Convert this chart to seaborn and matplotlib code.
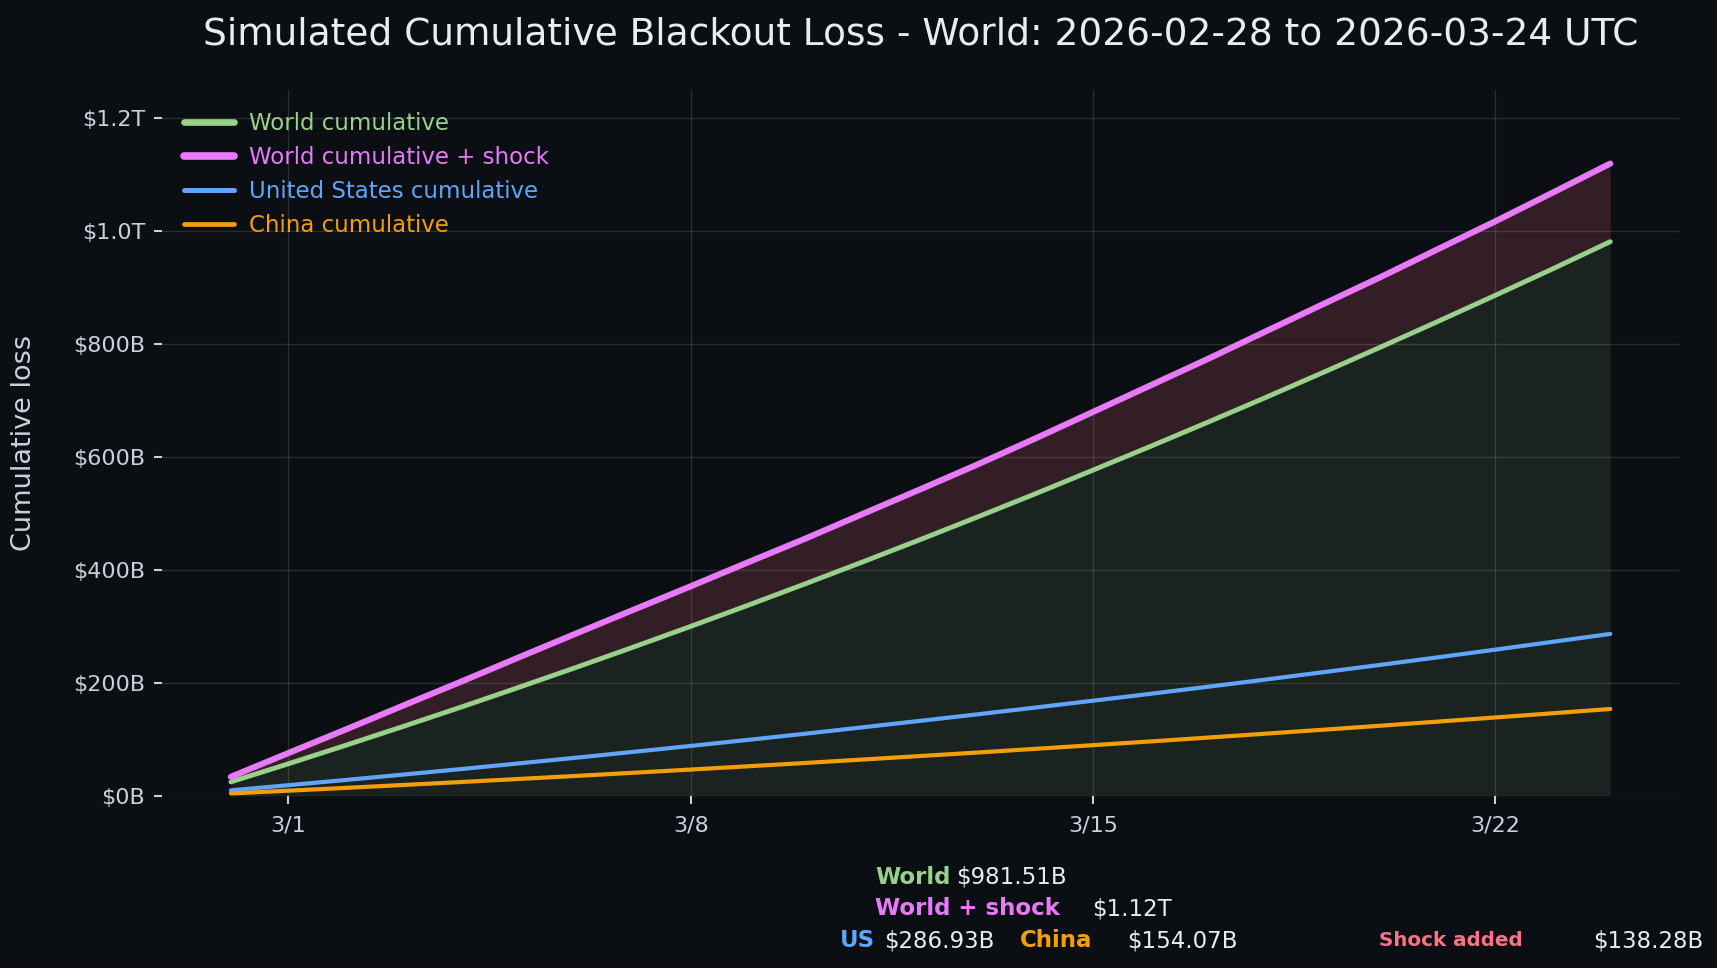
import matplotlib
matplotlib.use("Agg")
import matplotlib.pyplot as plt
import matplotlib.dates as mdates
from matplotlib.ticker import FuncFormatter, MultipleLocator
import seaborn as sns
import pandas as pd
import numpy as np

# ---- data (billions USD) ----
dates = pd.date_range("2026-02-28", "2026-03-24", freq="D")
world = [25.0, 57.0, 89.8, 123.2, 157.2, 192.0, 227.4, 263.5, 300.3, 337.8,
         375.9, 414.7, 454.2, 494.4, 535.2, 577.0, 619.0, 661.9, 705.4, 749.7,
         794.6, 840.2, 886.5, 933.4, 981.51]
world_shock = [34.0, 76.0, 117.8, 160.2, 202.2, 245.0, 287.4, 329.5, 371.3, 413.8,
               455.9, 499.7, 543.2, 587.4, 633.2, 680.0, 727.0, 773.9, 822.4, 870.7,
               918.6, 968.2, 1017.5, 1068.4, 1119.79]
us = [10.0, 19.1, 28.4, 37.9, 47.6, 57.6, 67.7, 78.1, 88.6, 99.4,
      110.3, 121.7, 133.1, 144.7, 156.6, 168.7, 180.9, 193.4, 206.1, 219.1,
      232.2, 245.5, 259.1, 273.0, 286.93]
china = [4.5, 9.4, 14.4, 19.5, 24.7, 30.1, 35.5, 41.1, 46.8, 52.6,
         58.5, 64.6, 70.8, 77.0, 83.5, 90.0, 96.6, 103.4, 110.3, 117.3,
         124.4, 131.7, 139.0, 146.5, 154.07]
series_labels = ["World cumulative", "World cumulative + shock",
                 "United States cumulative", "China cumulative"]
summary_world = "$981.51B"
summary_shock_total = "$1.12T"
summary_us = "$286.93B"
summary_china = "$154.07B"
summary_shock_added = "$138.28B"

BG = "#0b0e13"
TXT = "#c9d1d9"
GREEN = "#98d18a"
PINK = "#e879f9"
BLUE = "#60a5fa"
ORANGE = "#f59e0b"
ROSE = "#fb7185"

sns.set_theme(style="dark")
plt.rcParams["font.family"] = ["DejaVu Sans"]

fig = plt.figure(figsize=(17.17, 9.68), dpi=100, facecolor=BG)
ax = fig.add_axes([0.0943, 0.1777, 0.8837, 0.7293])
ax.set_facecolor(BG)

df = pd.DataFrame({"date": dates, "world": world, "world_shock": world_shock,
                   "us": us, "china": china})

ax.fill_between(df["date"], 0, df["world"], color=GREEN, alpha=0.11, lw=0, zorder=1)
ax.fill_between(df["date"], df["world"], df["world_shock"], color=ROSE, alpha=0.17, lw=0, zorder=1)

sns.lineplot(data=df, x="date", y="world", ax=ax, color=GREEN, lw=3.5, label=series_labels[0], zorder=3)
sns.lineplot(data=df, x="date", y="world_shock", ax=ax, color=PINK, lw=4.4, label=series_labels[1], zorder=4)
sns.lineplot(data=df, x="date", y="us", ax=ax, color=BLUE, lw=3.0, label=series_labels[2], zorder=3)
sns.lineplot(data=df, x="date", y="china", ax=ax, color=ORANGE, lw=3.0, label=series_labels[3], zorder=3)

ax.set_ylim(0, 1250)
ax.yaxis.set_major_locator(MultipleLocator(200))

def fmt(v, pos):
    if v >= 1000:
        return f"${v/1000:.1f}T"
    return f"${v:.0f}B"

ax.yaxis.set_major_formatter(FuncFormatter(fmt))
ax.xaxis.set_major_locator(mdates.DayLocator(bymonthday=[1, 8, 15, 22]))
ax.xaxis.set_major_formatter(FuncFormatter(lambda v, p: f"{mdates.num2date(v).month}/{mdates.num2date(v).day}"))

ax.grid(True, color="#ffffff", alpha=0.13, lw=1)
for s in ax.spines.values():
    s.set_visible(False)
ax.tick_params(axis="both", colors=TXT, labelsize=16, length=6, width=1.5,
               bottom=True, left=True)
ax.tick_params(axis="y", pad=6)
ax.tick_params(axis="x", pad=8)
ax.set_xlabel("")
ax.set_ylabel("Cumulative loss", color=TXT, fontsize=19.5, labelpad=26)
ax.set_title("Simulated Cumulative Blackout Loss - World: 2026-02-28 to 2026-03-24 UTC",
             color="#e6edf3", fontsize=27, pad=33)

leg = ax.legend(loc="upper left", frameon=False, fontsize=16.5, handlelength=2.2,
                borderaxespad=0.55, labelspacing=0.48, handletextpad=0.65)
for txt, c in zip(leg.get_texts(), [GREEN, PINK, BLUE, ORANGE]):
    txt.set_color(c)
for h, w in zip(leg.get_lines(), [4.8, 5.5, 3.6, 3.4]):
    h.set_linewidth(w)

# summary texts
fs = 16.5
fig.text(0.5096, 0.094, "World", color=GREEN, fontsize=fs, fontweight="bold", va="center")
fig.text(0.5568, 0.094, summary_world, color="#e6edf3", fontsize=fs, va="center")
fig.text(0.5096, 0.061, "World + shock", color=PINK, fontsize=fs, fontweight="bold", va="center")
fig.text(0.6360, 0.061, summary_shock_total, color="#e6edf3", fontsize=fs, va="center")
fig.text(0.4892, 0.028, "US", color=BLUE, fontsize=fs, fontweight="bold", va="center")
fig.text(0.5148, 0.028, summary_us, color="#e6edf3", fontsize=fs, va="center")
fig.text(0.5940, 0.028, "China", color=ORANGE, fontsize=fs, fontweight="bold", va="center")
fig.text(0.6564, 0.028, summary_china, color="#e6edf3", fontsize=fs, va="center")
fig.text(0.8031, 0.028, "Shock added", color=ROSE, fontsize=14.3, fontweight="bold", va="center")
fig.text(0.9278, 0.028, summary_shock_added, color="#e6edf3", fontsize=fs, va="center")

fig.savefig("out.png", dpi=100, facecolor=BG)
